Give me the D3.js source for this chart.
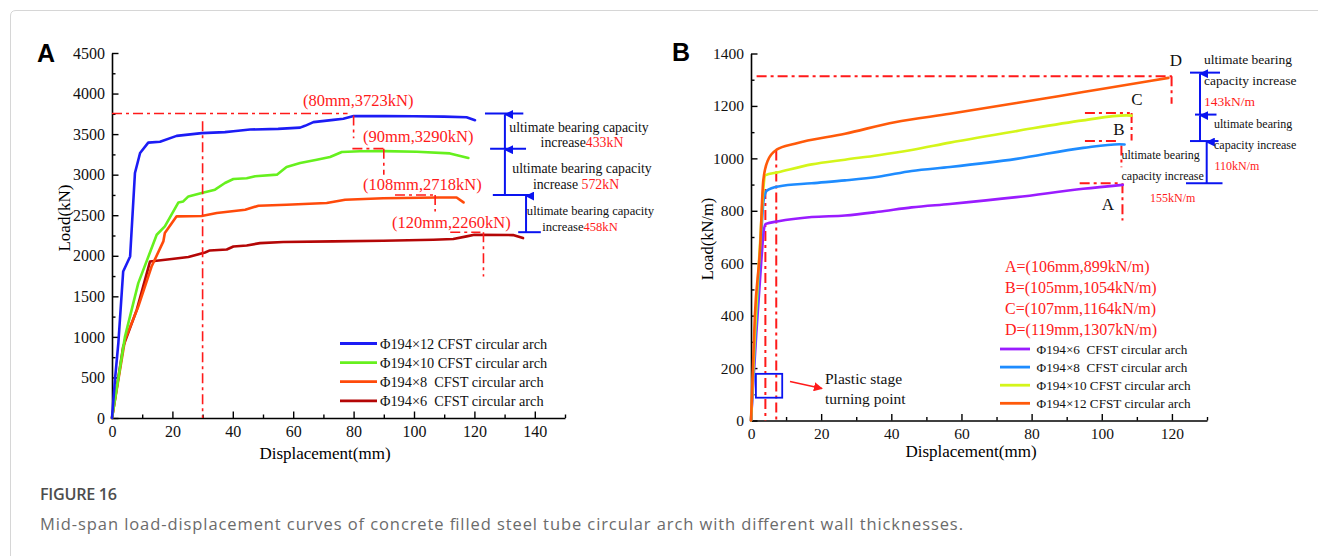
<!DOCTYPE html>
<html>
<head>
<meta charset="utf-8">
<script src="https://cdn.jsdelivr.net/npm/d3@7"></script>
<style>
  body { margin: 0; background: #fff; }
  svg { display: block; }
  text { white-space: pre; }
</style>
</head>
<body>
<svg id="fig" width="1318" height="556"></svg>
<script>
// ---------- Panel A: load (kN) vs mid-span displacement (mm), [mm, kN] ----------
const archA12 = [[0,0],[1,480],[2.1,922],[3.7,1806],[6,1992],[7.6,3021],[9.3,3267],[12,3395],[15.9,3405],[21.4,3478],[29.7,3512],[37.4,3524],[40.2,3535],[45.7,3556],[55,3565],[62.3,3580],[63.9,3602],[66.7,3648],[73.3,3675],[76.6,3690],[80,3723],[90,3722],[100,3720],[110,3716],[117.4,3708],[120.2,3672]];
const archA10 = [[0,0],[4.3,1004],[8.7,1663],[14.8,2259],[17.5,2362],[22,2658],[23.6,2670],[25.3,2732],[29.7,2774],[34.1,2815],[37.4,2897],[40.2,2946],[44.6,2955],[47.4,2980],[54.6,3000],[57.8,3095],[62.3,3144],[67.8,3185],[72.2,3218],[76.1,3280],[82.1,3288],[90,3290],[100.9,3282],[111.9,3262],[118,3206]];
const archA8  = [[0,0],[4.3,963],[8.7,1374],[13.1,1868],[17,2177],[17.5,2280],[21.4,2486],[29.7,2490],[34.7,2527],[44.1,2568],[48.5,2617],[57.8,2630],[71.1,2650],[77.2,2691],[89.8,2710],[108,2718],[114.1,2718],[116.4,2658]];
const archA6  = [[0,0],[3.7,880],[8.2,1333],[12.6,1930],[19.8,1960],[25.3,1985],[30.8,2040],[32.4,2066],[38,2077],[40.2,2115],[44.6,2127],[49,2156],[56.7,2170],[73.3,2177],[89.8,2185],[106.4,2197],[113,2206],[117.4,2239],[120,2260],[132.8,2255],[136.1,2218]];

const seriesNamesA = ["Φ194×12 CFST circular arch", "Φ194×10 CFST circular arch", "Φ194×8  CFST circular arch", "Φ194×6  CFST circular arch"];
const peakDispA = [80, 90, 108, 120];      // mm
const peakLoadA = [3723, 3290, 2718, 2260]; // kN
const xTicksA = [0, 20, 40, 60, 80, 100, 120, 140];
const yTicksA = [0, 500, 1000, 1500, 2000, 2500, 3000, 3500, 4000, 4500];

// ---------- Panel B: load (kN/m) vs displacement (mm) ----------
const archB6  = [[0,0],[1.5,330],[3,620],[3.6,720],[4.2,750],[7.8,760],[17.3,776],[26.8,782],[36.3,796],[45.8,813],[56.7,826],[75.7,852],[94.7,884],[106,899]];
const archB8  = [[0,0],[1.3,330],[2.8,680],[3.6,840],[4.5,877],[7.8,893],[17.3,905],[26.8,916],[36.3,930],[45.8,952],[56.7,967],[75.7,998],[94.7,1040],[105,1054],[106.5,1053]];
const archB10 = [[0,0],[1.1,330],[2.6,680],[3.5,880],[4,935],[7.8,947],[17.3,977],[26.8,995],[36.3,1012],[45.8,1032],[56.7,1060],[75.7,1104],[94.7,1145],[107,1164],[108.5,1163]];
const archB12 = [[0,0],[1.1,400],[2.6,661],[3.5,916],[4.8,992],[7.3,1033],[12.5,1056],[26.8,1094],[41,1138],[56.7,1170],[75.7,1211],[94.7,1253],[113.7,1295],[119,1307]];

const seriesNamesB = ["Φ194×6  CFST circular arch", "Φ194×8  CFST circular arch", "Φ194×10 CFST circular arch", "Φ194×12 CFST circular arch"];
const pointNamesB = ["A", "B", "C", "D"];
const peakDispB = [106, 105, 107, 119];      // mm
const peakLoadB = [899, 1054, 1164, 1307];   // kN/m
const xTicksB = [0, 20, 40, 60, 80, 100, 120];
const yTicksB = [0, 200, 400, 600, 800, 1000, 1200, 1400];

// ---------- styles ----------
const colorsA = ["#1c1cf5", "#66f01e", "#ff4a0a", "#b40606"];
const colorsB = ["#9a1cff", "#1e8cff", "#d4f51a", "#ff5a0a"];
const RED = "#ff1a1a";
const DIM = "#0a14f0";
const SERIF = "'Liberation Serif', 'Times New Roman', serif";
const DASH = "10,4,3,4";

const svg = d3.select("#fig");

// card border
svg.append("path")
  .attr("d", "M10.5,556 L10.5,16 Q10.5,10.5 16,10.5 L1318,10.5")
  .attr("fill", "none").attr("stroke", "#d6d6d6").attr("stroke-width", 1);

// ---------- scales ----------
const xA = d3.scaleLinear().domain([0, 150]).range([112, 565]);
const yA = d3.scaleLinear().domain([0, 4500]).range([418, 53]);
const xB = d3.scaleLinear().domain([0, 130]).range([751, 1207]);
const yB = d3.scaleLinear().domain([0, 1400]).range([420.5, 53.5]);

function range(a, b, s) { const r = []; for (let v = a; v <= b + 1e-9; v += s) r.push(v); return r; }

function drawAxes(x, y, xt, yt, xMinor, yMinor, fs) {
  const g = svg.append("g");
  const y0 = y.range()[0], x0 = x.range()[0];
  g.append("g").attr("transform", `translate(0,${y0})`)
    .call(d3.axisBottom(x).tickValues(xt).tickSize(-6.5).tickSizeOuter(0).tickPadding(7.5).tickFormat(d3.format("d")));
  const gxm = g.append("g").attr("transform", `translate(0,${y0})`)
    .call(d3.axisBottom(x).tickValues(xMinor).tickSize(-3.5).tickSizeOuter(0).tickFormat(""));
  gxm.select(".domain").remove();
  g.append("g").attr("transform", `translate(${x0},0)`)
    .call(d3.axisLeft(y).tickValues(yt).tickSize(-6.5).tickSizeOuter(0).tickPadding(7).tickFormat(d3.format("d")));
  const gym = g.append("g").attr("transform", `translate(${x0},0)`)
    .call(d3.axisLeft(y).tickValues(yMinor).tickSize(-3.5).tickSizeOuter(0).tickFormat(""));
  gym.select(".domain").remove();
  g.selectAll(".domain").attr("stroke", "#000").attr("stroke-width", 1.6);
  g.selectAll(".tick line").attr("stroke", "#000").attr("stroke-width", 1.4);
  g.selectAll(".tick text").attr("font-family", SERIF).attr("font-size", fs).attr("fill", "#111");
  return g;
}

function seg(g, x1, y1, x2, y2) { g.append("line").attr("x1", x1).attr("y1", y1).attr("x2", x2).attr("y2", y2); }

// =================== Panel A ===================
drawAxes(xA, yA, xTicksA, yTicksA, range(10, 150, 20), range(250, 4250, 500), 16);

svg.append("text").attr("x", 37).attr("y", 62).text("A")
  .attr("font-family", "'Liberation Sans', Arial, sans-serif").attr("font-weight", "bold").attr("font-size", 25);
svg.append("text").attr("transform", "translate(70,218) rotate(-90)").attr("text-anchor", "middle")
  .attr("font-family", SERIF).attr("font-size", 17).text("Load(kN)");
svg.append("text").attr("x", 325).attr("y", 459).attr("text-anchor", "middle")
  .attr("font-family", SERIF).attr("font-size", 17).text("Displacement(mm)");

const lineA = d3.line().x(d => xA(d[0])).y(d => yA(d[1]));
const dataA = [archA12, archA10, archA8, archA6];
// thinnest wall first so the stiffer curves sit on top
[3, 2, 1, 0].forEach(i => {
  svg.append("path").datum(dataA[i]).attr("d", lineA)
    .attr("fill", "none").attr("stroke", colorsA[i]).attr("stroke-width", 2.6)
    .attr("stroke-linejoin", "round").attr("stroke-linecap", "round");
});

// guide lines to the ultimate points (drawn just above each curve)
const gA = svg.append("g").attr("fill", "none").attr("stroke", RED).attr("stroke-width", 1.6).attr("stroke-dasharray", DASH);
const lvlA = peakLoadA.map(v => yA(v) - 2.5);
seg(gA, xA(0), lvlA[0], xA(78), lvlA[0]);
seg(gA, xA(30), yA(3660), xA(30), yA(0));
seg(gA, xA(80), lvlA[0] + 2, xA(80), yA(3450));
seg(gA, xA(79.6), lvlA[1], xA(90.4), lvlA[1]);
seg(gA, xA(90), lvlA[1], xA(90), yA(3000));
seg(gA, xA(93.7), lvlA[2], xA(106.4), lvlA[2]);
seg(gA, xA(107), lvlA[2], xA(107), yA(2547));
seg(gA, xA(112), lvlA[3], xA(122), lvlA[3]);
seg(gA, xA(123), lvlA[3], xA(123), yA(1745));

// ultimate point labels
const labPosA = [[303, 106], [363, 141.5], [363, 190], [392, 228]];
peakLoadA.forEach((v, i) => {
  svg.append("text").attr("x", labPosA[i][0]).attr("y", labPosA[i][1])
    .attr("font-family", SERIF).attr("font-size", 16.5).attr("fill", RED)
    .text(`(${peakDispA[i]}mm,${v}kN)`);
});

// arrowhead markers
const defs = svg.append("defs");
defs.append("marker").attr("id", "arrUp").attr("viewBox", "0 0 10 10").attr("refX", 5).attr("refY", 1)
  .attr("markerWidth", 9).attr("markerHeight", 9).attr("markerUnits", "userSpaceOnUse").attr("orient", "auto")
  .append("path").attr("d", "M0,10 L5,0 L10,10 Z").attr("fill", DIM);
defs.append("marker").attr("id", "arrRed").attr("viewBox", "0 0 10 10").attr("refX", 9).attr("refY", 5)
  .attr("markerWidth", 9).attr("markerHeight", 9).attr("markerUnits", "userSpaceOnUse").attr("orient", "auto")
  .append("path").attr("d", "M0,0 L10,5 L0,10 Z").attr("fill", RED);

// dimension lines between consecutive ultimate loads
const dA = svg.append("g").attr("stroke", DIM).attr("stroke-width", 2).attr("fill", "none");
const dimSpanA = [[123.5, 136.2], [125.2, 137.1], [126.1, 139.3], [134.5, 142]];
dimSpanA.forEach((s, i) => seg(dA, xA(s[0]), lvlA[i], xA(s[1]), lvlA[i]));
[[130.1, 1, 0], [130.1, 2, 1], [137.1, 3, 2]].forEach(([xm, a, b]) => {
  dA.append("line").attr("x1", xA(xm)).attr("y1", lvlA[a]).attr("x2", xA(xm)).attr("y2", lvlA[b] + 1)
    .attr("marker-end", "url(#arrUp)");
});

function incText(x, y, fs, parts) {
  const t = svg.append("text").attr("x", x).attr("y", y).attr("text-anchor", "middle")
    .attr("font-family", SERIF).attr("font-size", fs).attr("fill", "#111");
  parts.forEach(p => t.append("tspan").attr("fill", p[1] ? RED : "#111").text(p[0]));
}
const incA = [0, 1, 2].map(i => peakLoadA[i] - peakLoadA[i + 1]);
incText(579, 131.5, 13.8, [["ultimate bearing capacity", 0]]);
incText(582, 147, 13.8, [["increase", 0], [`${incA[0]}kN`, 1]]);
incText(582, 173, 13.8, [["ultimate bearing capacity", 0]]);
incText(576, 189, 13.8, [["increase ", 0], [`${incA[1]}kN`, 1]]);
incText(590.5, 215, 12.6, [["ultimate bearing capacity", 0]]);
incText(580, 230.5, 12.6, [["increase", 0], [`${incA[2]}kN`, 1]]);

// legend A
seriesNamesA.forEach((n, i) => {
  const yy = 343.5 + i * 19.1;
  svg.append("line").attr("x1", 340).attr("x2", 377).attr("y1", yy).attr("y2", yy)
    .attr("stroke", colorsA[i]).attr("stroke-width", 2.8);
  svg.append("text").attr("x", 380).attr("y", yy + 5).attr("font-family", SERIF).attr("font-size", 14.3)
    .attr("fill", "#111").text(n);
});

// =================== Panel B ===================
drawAxes(xB, yB, xTicksB, yTicksB, range(10, 130, 20), range(100, 1300, 200), 15.5);

svg.append("text").attr("x", 672).attr("y", 61).text("B")
  .attr("font-family", "'Liberation Sans', Arial, sans-serif").attr("font-weight", "bold").attr("font-size", 25);
svg.append("text").attr("transform", "translate(713,239) rotate(-90)").attr("text-anchor", "middle")
  .attr("font-family", SERIF).attr("font-size", 16.5).text("Load(kN/m)");
svg.append("text").attr("x", 971).attr("y", 457).attr("text-anchor", "middle")
  .attr("font-family", SERIF).attr("font-size", 17).text("Displacement(mm)");

// turning-point guides and ultimate-point guides
const gB = svg.append("g").attr("fill", "none").attr("stroke", RED).attr("stroke-width", 2).attr("stroke-dasharray", DASH);
seg(gB, xB(4.1), yB(883), xB(4.1), yB(0));
seg(gB, xB(7.2), yB(1030), xB(7.2), yB(0));
seg(gB, xB(1.6), yB(1313), xB(120), yB(1313));
seg(gB, xB(119.9), yB(1313), xB(119.9), yB(1208));
seg(gB, xB(95.2), yB(1173), xB(108), yB(1173));
seg(gB, xB(108.5), yB(1173), xB(108.5), yB(1068));
seg(gB, xB(95.2), yB(1066), xB(104.2), yB(1066));
seg(gB, xB(105.6), yB(1049), xB(105.6), yB(966));
seg(gB, xB(93.7), yB(905), xB(105.1), yB(905));
seg(gB, xB(105.9), yB(905), xB(105.9), yB(763));

const lineB = d3.line().x(d => xB(d[0])).y(d => yB(d[1])).curve(d3.curveMonotoneX);
const dataB = [archB6, archB8, archB10, archB12];
dataB.forEach((d, i) => {
  svg.append("path").datum(d).attr("d", lineB)
    .attr("fill", "none").attr("stroke", colorsB[i]).attr("stroke-width", 2.6)
    .attr("stroke-linejoin", "round").attr("stroke-linecap", "round");
});

// point letters
const letterPos = [[1108, 210], [1119, 135], [1137, 105], [1176, 66]];
pointNamesB.forEach((n, i) => {
  svg.append("text").attr("x", letterPos[i][0]).attr("y", letterPos[i][1]).attr("text-anchor", "middle")
    .attr("font-family", SERIF).attr("font-size", 17).attr("fill", "#111").text(n);
});

// dimension arrows B
const dB = svg.append("g").attr("stroke", DIM).attr("stroke-width", 2).attr("fill", "none");
const lvlB = [905, 1066, 1167, 1327].map(v => yB(v));
seg(dB, 1186, lvlB[0], 1222.5, lvlB[0]);
seg(dB, 1190, lvlB[1], 1218.5, lvlB[1]);
seg(dB, 1195, lvlB[2], 1216.5, lvlB[2]);
seg(dB, 1190, lvlB[3], 1220, lvlB[3]);
[[1206.7, 0, 1], [1200, 1, 2], [1200, 2, 3]].forEach(([xx, a, b]) => {
  dB.append("line").attr("x1", xx).attr("y1", lvlB[a]).attr("x2", xx).attr("y2", lvlB[b] + 1)
    .attr("marker-end", "url(#arrUp)");
});

const incB = [0, 1, 2].map(i => peakLoadB[i + 1] - peakLoadB[i]);
function leftText(x, y, fs, s, red) {
  svg.append("text").attr("x", x).attr("y", y).attr("font-family", SERIF).attr("font-size", fs)
    .attr("fill", red ? RED : "#111").text(s);
}
leftText(1204, 64, 13.5, "ultimate bearing");
leftText(1204, 85, 13.5, "capacity increase");
leftText(1204, 106, 13.5, `${incB[2]}kN/m`, true);
leftText(1214, 127.5, 12, "ultimate bearing");
leftText(1214, 148.5, 12, "capacity increase");
leftText(1214.5, 169.5, 12, `${incB[1]}kN/m`, true);
leftText(1121.5, 158.5, 12, "ultimate bearing");
leftText(1121.5, 179.5, 12, "capacity increase");
leftText(1150, 202, 12, `${incB[0]}kN/m`, true);

// ultimate point list
pointNamesB.forEach((n, i) => {
  leftText(1005, 271.5 + i * 21.1, 16, `${n}=(${peakDispB[i]}mm,${peakLoadB[i]}kN/m)`, true);
});

// legend B
seriesNamesB.forEach((n, i) => {
  const yy = 349 + i * 18.1;
  svg.append("line").attr("x1", 1000).attr("x2", 1030).attr("y1", yy).attr("y2", yy)
    .attr("stroke", colorsB[i]).attr("stroke-width", 2.8);
  svg.append("text").attr("x", 1036.5).attr("y", yy + 4.5).attr("font-family", SERIF).attr("font-size", 13.2)
    .attr("fill", "#111").text(n);
});

// plastic stage turning point callout
svg.append("rect").attr("x", xB(1.4)).attr("y", yB(178)).attr("width", xB(8.9) - xB(1.4)).attr("height", yB(87) - yB(178))
  .attr("fill", "none").attr("stroke", DIM).attr("stroke-width", 1.8);
svg.append("line").attr("x1", 790).attr("y1", 381.5).attr("x2", 822).attr("y2", 388.5)
  .attr("stroke", RED).attr("stroke-width", 1.6).attr("marker-end", "url(#arrRed)");
leftText(825, 383.5, 15.5, "Plastic stage");
leftText(825, 404, 15.5, "turning point");

// ---------- caption ----------
svg.append("text").attr("x", 40).attr("y", 500).attr("font-family", "'Open Sans', 'Noto Sans', sans-serif")
  .attr("font-size", 16.2).attr("font-weight", 600).attr("fill", "#4d4d4d").attr("letter-spacing", -0.3).text("FIGURE 16");
svg.append("text").attr("x", 40).attr("y", 530).attr("font-family", "'Open Sans', 'Noto Sans', sans-serif")
  .attr("font-size", 16.5).attr("fill", "#6b6b6b").attr("textLength", 923).attr("lengthAdjust", "spacing")
  .text("Mid-span load-displacement curves of concrete filled steel tube circular arch with different wall thicknesses.");
</script>
</body>
</html>
